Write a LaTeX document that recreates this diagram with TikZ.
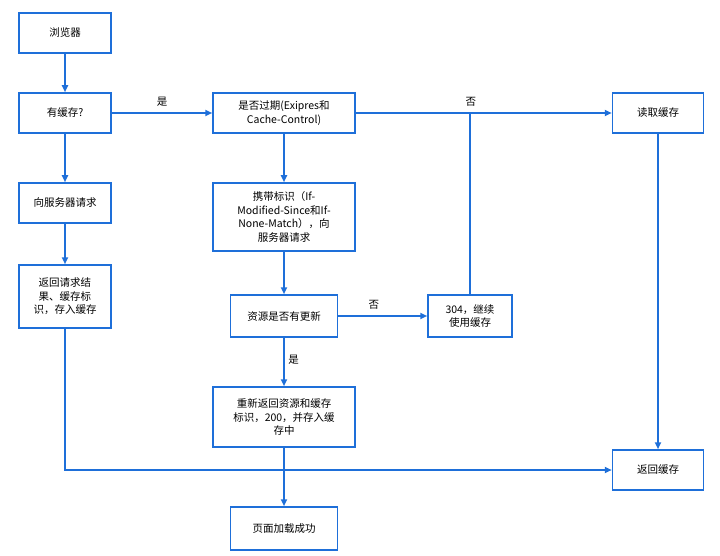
\documentclass[tikz,border=0pt]{standalone}
\usepackage{fontspec}
\setmainfont{Noto Sans CJK SC}
\usetikzlibrary{arrows.meta}
\definecolor{bl}{HTML}{1E6FD9}
\begin{document}
\begin{tikzpicture}[x=1pt,y=-1pt,
 box/.style={draw=bl,line width=1.5pt,fill=white,align=center,font=\fontsize{10.5}{13.5}\selectfont,inner sep=2pt},
 ar/.style={draw=bl,line width=2pt,-{Triangle[length=7pt,width=6pt]}},
 ln/.style={draw=bl,line width=2pt},
 lb/.style={font=\fontsize{10.5}{12}\selectfont}]
\useasboundingbox (0,0) rectangle (720,556);
\node[box,minimum width=92pt,minimum height=40pt] (a) at (65,33) {浏览器};
\node[box,minimum width=92pt,minimum height=40pt] (b) at (65,113) {有缓存?};
\node[box,minimum width=92pt,minimum height=40pt] (c) at (65,203) {向服务器请求};
\node[box,minimum width=92pt,minimum height=63pt] (d) at (65,296.5) {返回请求结\\果、缓存标\\识，存入缓存};
\node[box,minimum width=142pt,minimum height=40pt] (e) at (284,113) {是否过期(Exipres和\\Cache-Control)};
\node[box,minimum width=142pt,minimum height=68pt] (f) at (284,217) {携带标识（If-\\Modified-Since和If-\\None-Match），向\\服务器请求};
\node[box,minimum width=107pt,minimum height=42pt] (g) at (284,316) {资源是否有更新};
\node[box,minimum width=84pt,minimum height=42pt] (h) at (470,316) {304，继续\\使用缓存};
\node[box,minimum width=142pt,minimum height=60pt] (i) at (284,417) {重新返回资源和缓存\\标识，200，并存入缓\\存中};
\node[box,minimum width=107pt,minimum height=43pt] (j) at (284,528.5) {页面加载成功};
\node[box,minimum width=91pt,minimum height=40pt] (k) at (658,113) {读取缓存};
\node[box,minimum width=91pt,minimum height=40pt] (l) at (658,470) {返回缓存};
\coordinate (m) at (470,113);
\draw[ar] (a) -- (b);
\draw[ar] (b) -- node[lb,above,pos=0.5,yshift=2pt]{是} (e);
\draw[ar] (b) -- (c);
\draw[ar] (c) -- (d);
\draw[ar] (d.south) |- (l.west);
\draw[ar] (e) -- node[lb,above,pos=0.45,yshift=2pt]{否} (k);
\draw[ln] (h.north) -- (m);
\draw[ar] (e) -- (f);
\draw[ar] (f) -- (g);
\draw[ar] (g) -- node[lb,above,pos=0.4,yshift=2pt]{否} (h);
\draw[ar] (g) -- node[lb,right,pos=0.45]{是} (i);
\draw[ar] (i) -- (j);
\draw[ar] (k) -- (l);
\end{tikzpicture}
\end{document}
